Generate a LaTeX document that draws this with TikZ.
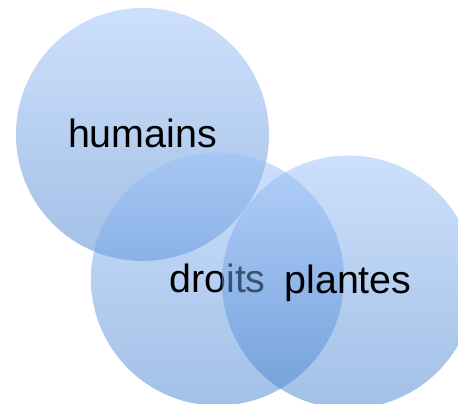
\documentclass[tikz,border=0pt]{standalone}
\usepackage{fontspec}
\setmainfont{Liberation Sans}
\definecolor{blobtop}{RGB}{155,193,249}
\definecolor{blobbot}{RGB}{69,129,205}
\begin{document}
\begin{tikzpicture}[x=1pt,y=-1pt,
  blob/.style={circle, inner sep=0pt, minimum size=253pt, draw=none,
    top color=blobtop, bottom color=blobbot, fill opacity=0.5, opacity=0.5},
  lbl/.style={inner sep=0pt, anchor=base, font=\fontsize{39.4}{47}\selectfont, text=black}]
\useasboundingbox (0,0) rectangle (458,404);
\clip (0,0) rectangle (458,404);
\node[blob] (ch) at (142.5,134.5) {};
\node[lbl] (th) at (142.5,147) {humains};
\node[blob] (cd) at (217.5,279) {};
\node[lbl] (td) at (217.5,292) {droits};
\node[blob] (cp) at (348.5,282) {};
\node[lbl] (tp) at (348,293) {plantes};
\end{tikzpicture}
\end{document}
